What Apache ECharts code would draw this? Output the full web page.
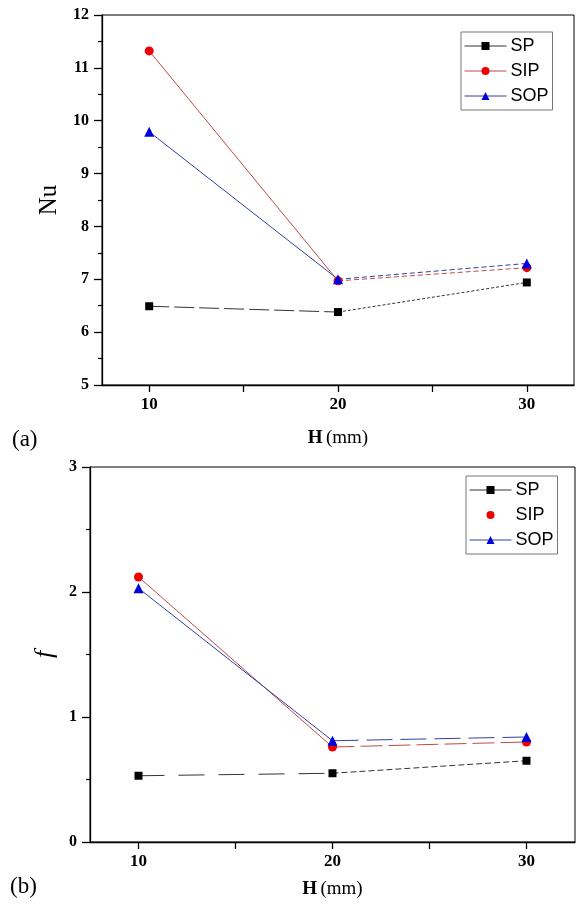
<!DOCTYPE html>
<html><head><meta charset="utf-8">
<script src="https://cdn.jsdelivr.net/npm/echarts@6/dist/echarts.min.js"></script>
<style>html,body{margin:0;padding:0;background:#fff}#c{width:576px;height:910px}</style>
</head><body><div id="c"></div>
<script>
const H = [10, 20, 30];
const xLabels = [10, 20, 30];
const xTicks = [10, 15, 20, 25, 30];
const nuSP = [6.49, 6.38, 6.94];
const nuSIP = [11.32, 6.97, 7.22];
const nuSOP = [9.79, 7.00, 7.30];
const fSP = [0.53, 0.55, 0.65];
const fSIP = [2.12, 0.76, 0.80];
const fSOP = [2.03, 0.81, 0.84];
const names = ['SP', 'SIP', 'SOP'];

const serif = 'Liberation Serif';
const styles = {
  SP: {symbol: 'rect', size: 8, mc: '#000', lc: '#333'},
  SIP: {symbol: 'circle', size: 9, mc: '#ee0000', lc: '#c04848'},
  SOP: {symbol: 'triangle', size: 10, mc: '#0000dd', lc: '#3040a0'}
};
function seg(v, i0, i1) { const r = []; for (let i = i0; i <= i1; i++) r.push([H[i], v[i]]); return r; }
function build(g, vals, dashes) {
  const out = [];
  names.forEach((n, k) => {
    const v = vals[k], s = styles[n];
    out.push({type: 'line', xAxisIndex: g, yAxisIndex: g, data: seg(v, 0, 1), showSymbol: false, silent: true, z: 3,
      lineStyle: {color: s.lc, width: 1, type: dashes[k][0]}});
    out.push({type: 'line', xAxisIndex: g, yAxisIndex: g, data: seg(v, 1, 2), showSymbol: false, silent: true, z: 3,
      lineStyle: {color: s.lc, width: 1, type: dashes[k][1]}});
    out.push({name: n, type: 'line', xAxisIndex: g, yAxisIndex: g, data: seg(v, 0, 2), symbol: s.symbol, symbolSize: s.size,
      itemStyle: {color: s.mc}, lineStyle: {color: s.lc, width: 1, opacity: 0}, z: 5});
  });
  return out;
}
function xAxis(g, gap) {
  return {type: 'value', gridIndex: g, min: 7.5, max: 32.5,
    name: '{b|H} {n|(mm)}', nameLocation: 'middle', nameGap: gap,
    nameTextStyle: {rich: {b: {fontFamily: serif, fontWeight: 'bold', fontSize: 19, color: '#000'}, n: {fontFamily: serif, fontSize: 19, color: '#000'}}},
    axisLine: {show: true, onZero: false, lineStyle: {color: '#000', width: 1.3}},
    axisTick: {show: true, customValues: xTicks, length: 7, lineStyle: {color: '#000', width: 1.3}},
    axisLabel: {customValues: xLabels, margin: 11, fontFamily: serif, fontWeight: 'bold', fontSize: 17, color: '#000'},
    splitLine: {show: false}};
}
function yAxis(g, min, max, name, gap, italic, nsize) {
  return {type: 'value', gridIndex: g, min: min, max: max, interval: 1,
    name: name, nameLocation: 'middle', nameGap: gap,
    nameTextStyle: {fontFamily: serif, fontSize: nsize, fontStyle: italic ? 'italic' : 'normal', color: '#000'},
    axisLine: {show: true, onZero: false, lineStyle: {color: '#000', width: 1.3}},
    axisTick: {show: true, length: 8, lineStyle: {color: '#000', width: 1.3}},
    minorTick: {show: true, splitNumber: 2, length: 4, lineStyle: {color: '#000', width: 1.2}},
    axisLabel: {margin: 13, fontFamily: serif, fontWeight: 'bold', fontSize: 16, color: '#000'},
    splitLine: {show: false}};
}
function legend(left, top, sipLine) {
  return {orient: 'vertical', left: left, top: top, itemWidth: 42, itemHeight: 10, itemGap: 7,
    padding: [5, 4, 5, 3], borderColor: '#777', borderWidth: 1, backgroundColor: '#fff',
    textStyle: {fontFamily: 'Liberation Sans', fontSize: 18, color: '#000', padding: [0, 0, 0, -1]},
    data: names.map(n => ({name: n, lineStyle: {opacity: (n === 'SIP' && !sipLine) ? 0 : 1, width: 1}}))};
}
const chart = echarts.init(document.getElementById('c'), null, {renderer: 'canvas'});
chart.setOption({
  animation: false,
  grid: [
    {left: 102, right: 2, top: 15, bottom: 525, show: true, borderColor: '#000', borderWidth: 1},
    {left: 90, right: 1, top: 467, bottom: 68, show: true, borderColor: '#000', borderWidth: 1}
  ],
  xAxis: [xAxis(0, 44), xAxis(1, 38)],
  yAxis: [yAxis(0, 5, 12, 'Nu', 38, false, 25), yAxis(1, 0, 3, 'f', 28, true, 26)],
  legend: [legend(461, 32, true), legend(466, 476, false)],
  graphic: [
    {type: 'text', left: 12, top: 428, style: {text: '(a)', font: '23px "Liberation Serif"', fill: '#000'}},
    {type: 'text', left: 10, top: 875, style: {text: '(b)', font: '23px "Liberation Serif"', fill: '#000'}}
  ],
  series: [].concat(
    build(0, [nuSP, nuSIP, nuSOP], [[[20, 5], [3, 2]], ['solid', [5, 3]], ['solid', [5, 3]]]),
    build(1, [fSP, fSIP, fSOP], [[[26, 14], [6, 3]], ['solid', [22, 6]], ['solid', [26, 8]]])
  )
});
</script></body></html>
